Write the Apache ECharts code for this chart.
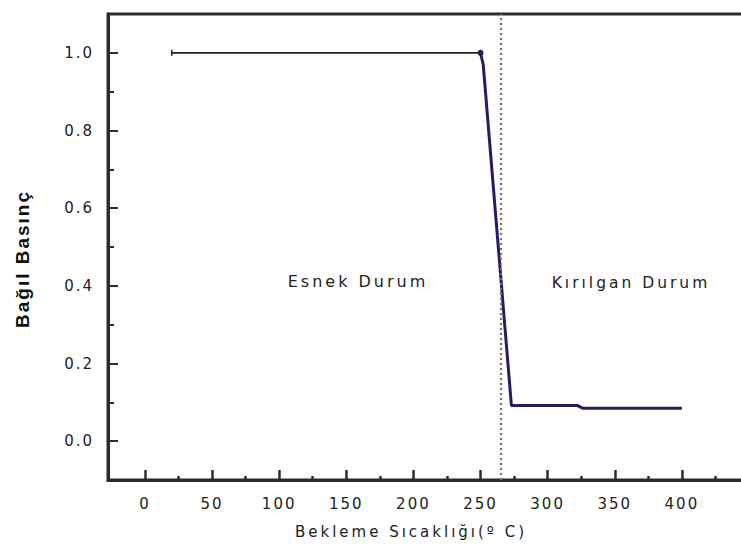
<!DOCTYPE html>
<html>
<head>
<meta charset="utf-8">
<script src="https://cdn.jsdelivr.net/npm/echarts@6/dist/echarts.min.js"></script>
<style>
  html, body { margin: 0; padding: 0; background: #fff; }
  #chart { width: 741px; height: 548px; }
  /* wide, spaced lettering for every label */
  #chart svg text { letter-spacing: 2px; }
  #chart svg text[style*="Verdana"] { letter-spacing: 3px; }
  #chart svg text[style*="bold"] { letter-spacing: 2px; }
</style>
</head>
<body>
<div id="chart"></div>
<script>
// Ductile region: flat relative pressure up to the transition
const ductileTemp = [20, 250];
const ductileValue = [1.0, 1.0];

// Drop through the transition and the brittle plateau
const brittleTemp = [250, 252, 273, 322, 326, 400];
const brittleValue = [1.0, 0.97, 0.092, 0.092, 0.085, 0.085];

// Transition temperature marker
const transitionTemp = 265;

// Tick values
const xMajorTicks = [0, 50, 100, 150, 200, 250, 300, 350, 400, 450];
const xMinorTicks = [25, 75, 125, 175, 225, 275, 325, 375, 425];
const xLabels = [0, 50, 100, 150, 200, 250, 300, 350, 400];
const yMajorTicks = [0.0, 0.2, 0.4, 0.6, 0.8, 1.0];
const yMinorTicks = [-0.1, 0.1, 0.3, 0.5, 0.7, 0.9];

const regionLabels = ['Esnek Durum', 'Kırılgan Durum'];
const xTitle = 'Bekleme Sıcaklığı(º C)';
const yTitle = 'Bağıl Basınç';

const chart = echarts.init(document.getElementById('chart'), null, { renderer: 'svg' });

const tickFont = { fontFamily: 'DejaVu Sans', fontSize: 15, color: '#222' };
const titleFont = '"DejaVu Sans", Verdana';
const gridBox = { left: 108, top: 14, width: 641, height: 466 };

function pairs(xs, ys) { return xs.map((x, i) => [x, ys[i]]); }

const axisLineStyle = { show: true, onZero: false, lineStyle: { color: '#2b2b2b', width: 3 } };

chart.setOption({
  animation: false,
  backgroundColor: '#fff',
  grid: Object.assign({ show: true, borderColor: '#2b2b2b', borderWidth: 3, containLabel: false, outerBoundsMode: 'none' }, gridBox),
  xAxis: [
    {
      type: 'value', min: -27.5, max: 450, position: 'bottom',
      axisLine: axisLineStyle,
      axisTick: { show: true, inside: true, length: 10, customValues: xMajorTicks, lineStyle: { color: '#2b2b2b', width: 2.5 } },
      axisLabel: Object.assign({ margin: 16, customValues: xLabels }, tickFont),
      splitLine: { show: false }
    },
    {
      type: 'value', min: -27.5, max: 450, position: 'bottom',
      axisLine: { show: false, onZero: false },
      axisTick: { show: true, inside: true, length: 4, customValues: xMinorTicks, lineStyle: { color: '#2b2b2b', width: 2.5 } },
      axisLabel: { show: false },
      splitLine: { show: false }
    }
  ],
  yAxis: [
    {
      type: 'value', min: -0.1, max: 1.1, position: 'left',
      axisLine: axisLineStyle,
      axisTick: { show: true, inside: true, length: 10, customValues: yMajorTicks, lineStyle: { color: '#2b2b2b', width: 2 } },
      axisLabel: Object.assign({ margin: 14, customValues: yMajorTicks, formatter: v => v.toFixed(1) }, tickFont),
      splitLine: { show: false }
    },
    {
      type: 'value', min: -0.1, max: 1.1, position: 'left',
      axisLine: { show: false, onZero: false },
      axisTick: { show: true, inside: true, length: 6, customValues: yMinorTicks, lineStyle: { color: '#2b2b2b', width: 2 } },
      axisLabel: { show: false },
      splitLine: { show: false }
    }
  ],
  series: [
    {
      type: 'line',
      data: pairs(ductileTemp, ductileValue),
      showSymbol: true,
      symbol: 'rect',
      symbolSize: [1.5, 6],
      itemStyle: { color: '#222' },
      lineStyle: { color: '#222', width: 1.6 },
      markLine: {
        silent: true,
        symbol: 'none',
        label: { show: false },
        lineStyle: { color: '#6f756e', type: [2, 3], width: 2.2 },
        data: [{ xAxis: transitionTemp }]
      },
      z: 3
    },
    {
      type: 'line',
      data: pairs(brittleTemp, brittleValue),
      showSymbol: true,
      symbol: (v, p) => p.dataIndex === 0 ? 'circle' : 'none',
      symbolSize: 6,
      itemStyle: { color: '#2a1a63' },
      lineStyle: { color: '#2a1a63', width: 3 },
      z: 4
    }
  ],
  graphic: [
    {
      type: 'text',
      style: { text: xTitle, x: 411, y: 532, align: 'center', verticalAlign: 'middle',
               font: '15px ' + titleFont, fill: '#222' }
    },
    {
      type: 'text', rotation: Math.PI / 2,
      x: 22, y: 259,
      style: { text: yTitle, x: 0, y: 0, align: 'center', verticalAlign: 'middle',
               font: 'bold 19px "Liberation Sans"', fill: '#111' }
    },
    {
      type: 'text',
      style: { text: regionLabels[0], x: 358, y: 281, align: 'center', verticalAlign: 'middle',
               font: '16px ' + titleFont, fill: '#222' }
    },
    {
      type: 'text',
      style: { text: regionLabels[1], x: 631, y: 283, align: 'center', verticalAlign: 'middle',
               font: '15.5px ' + titleFont, fill: '#222' }
    }
  ]
});
</script>
</body>
</html>
